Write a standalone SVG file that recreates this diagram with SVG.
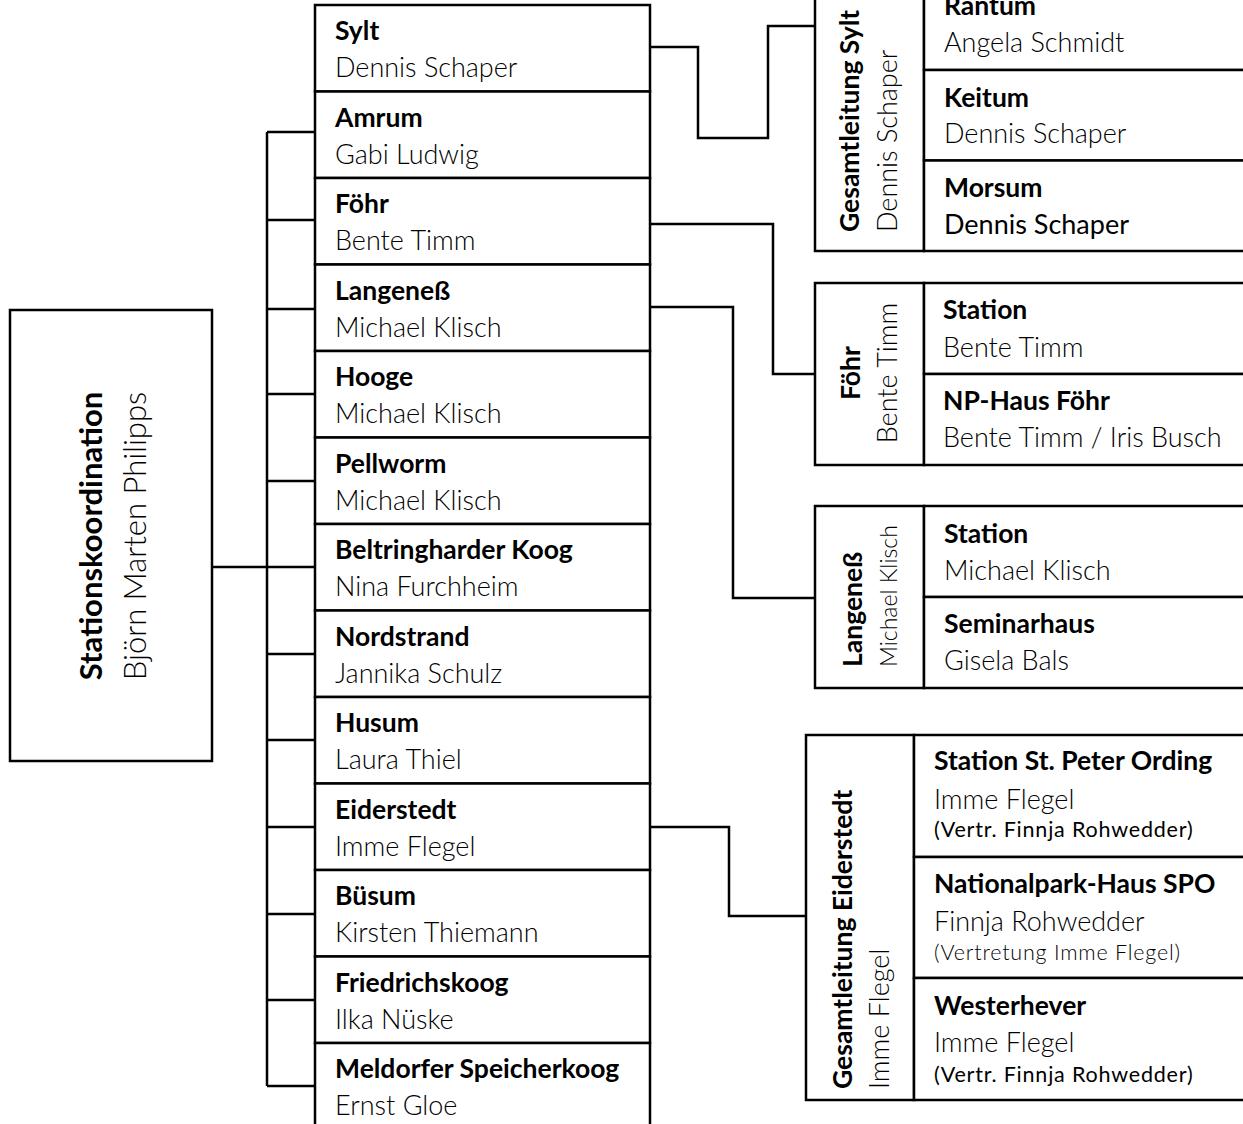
<svg xmlns="http://www.w3.org/2000/svg" width="1243" height="1124" viewBox="0 0 1243 1124">
<style>
.box{fill:#fff;stroke:#000;stroke-width:2.5}
.ln{fill:none;stroke:#000;stroke-width:2.5}
.t{font-family:Lato,"Open Sans",sans-serif;font-size:26.5px;font-weight:700;fill:#000}
.n{font-family:Lato,"Open Sans",sans-serif;font-size:27px;font-weight:300;fill:#000}
.nr{font-family:Lato,"Open Sans",sans-serif;font-size:27px;font-weight:400;fill:#000}
.s{font-family:Lato,"Open Sans",sans-serif;font-size:21.5px;font-weight:400;letter-spacing:0.8px;fill:#000}
.sl{font-family:Lato,"Open Sans",sans-serif;font-size:21.5px;font-weight:300;letter-spacing:0.8px;fill:#000}
.rt{font-family:Lato,"Open Sans",sans-serif;font-size:31px;font-weight:700;fill:#000}
.rn{font-family:Lato,"Open Sans",sans-serif;font-size:31px;font-weight:300;fill:#000}
</style>
<rect width="1243" height="1124" fill="#fff"/>
<g id="connectors">
<path class="ln" d="M212,567 H267"/>
<path class="ln" d="M267,132 V1086"/>
<path class="ln" d="M267,132 H315 M267,220 H315 M267,309 H315 M267,394 H315 M267,481 H315 M267,567 H315 M267,654 H315 M267,740 H315 M267,827 H315 M267,914 H315 M267,1000 H315 M267,1086 H315"/>
<path class="ln" d="M650,47 H698 V138 H768 V26 H815"/>
<path class="ln" d="M650,224 H773 V374 H815"/>
<path class="ln" d="M650,307 H733 V598 H815"/>
<path class="ln" d="M650,827 H729 V916 H806"/>
</g>
<g id="root">
<rect class="box" x="10" y="310" width="202" height="451"/>
<text class="rt" text-anchor="middle" transform="translate(102,536) rotate(-90)">Stationskoordination</text>
<text class="rn" text-anchor="middle" transform="translate(146,536) rotate(-90)">Björn Marten Philipps</text>
</g>
<g id="sylt"><rect class="box" x="315" y="5" width="335" height="86.5"/><text class="t" x="335" y="40">Sylt</text><text class="n" x="335" y="77">Dennis Schaper</text></g>
<g id="amrum"><rect class="box" x="315" y="91.5" width="335" height="86.5"/><text class="t" x="335" y="126.5">Amrum</text><text class="n" x="335" y="163.5">Gabi Ludwig</text></g>
<g id="foehr"><rect class="box" x="315" y="178" width="335" height="86.5"/><text class="t" x="335" y="213">Föhr</text><text class="n" x="335" y="250">Bente Timm</text></g>
<g id="langeness"><rect class="box" x="315" y="264.5" width="335" height="86.5"/><text class="t" x="335" y="299.5">Langeneß</text><text class="n" x="335" y="336.5">Michael Klisch</text></g>
<g id="hooge"><rect class="box" x="315" y="351" width="335" height="86.5"/><text class="t" x="335" y="386">Hooge</text><text class="n" x="335" y="423">Michael Klisch</text></g>
<g id="pellworm"><rect class="box" x="315" y="437.5" width="335" height="86.5"/><text class="t" x="335" y="472.5">Pellworm</text><text class="n" x="335" y="509.5">Michael Klisch</text></g>
<g id="beltringharder"><rect class="box" x="315" y="524" width="335" height="86.5"/><text class="t" x="335" y="559">Beltringharder Koog</text><text class="n" x="335" y="596">Nina Furchheim</text></g>
<g id="nordstrand"><rect class="box" x="315" y="610.5" width="335" height="86.5"/><text class="t" x="335" y="645.5">Nordstrand</text><text class="n" x="335" y="682.5">Jannika Schulz</text></g>
<g id="husum"><rect class="box" x="315" y="697" width="335" height="86.5"/><text class="t" x="335" y="732">Husum</text><text class="n" x="335" y="769">Laura Thiel</text></g>
<g id="eiderstedt"><rect class="box" x="315" y="783.5" width="335" height="86.5"/><text class="t" x="335" y="818.5">Eiderstedt</text><text class="n" x="335" y="855.5">Imme Flegel</text></g>
<g id="buesum"><rect class="box" x="315" y="870" width="335" height="86.5"/><text class="t" x="335" y="905">Büsum</text><text class="n" x="335" y="942">Kirsten Thiemann</text></g>
<g id="friedrichskoog"><rect class="box" x="315" y="956.5" width="335" height="86.5"/><text class="t" x="335" y="991.5">Friedrichskoog</text><text class="n" x="335" y="1028.5">Ilka Nüske</text></g>
<g id="meldorf"><rect class="box" x="315" y="1043" width="335" height="90"/><text class="t" x="335" y="1078">Meldorfer Speicherkoog</text><text class="n" x="335" y="1115">Ernst Gloe</text></g>

<g id="sylt-group">
<rect class="box" x="815" y="-20.5" width="109" height="271.5"/>
<text class="t" transform="translate(859,232) rotate(-90)">Gesamtleitung Sylt</text>
<text class="n" transform="translate(897,232) rotate(-90)">Dennis Schaper</text>
</g>
<g id="rantum"><rect class="box" x="924" y="-20.5" width="330" height="90.5"/><text class="t" x="944" y="15">Rantum</text><text class="n" x="944" y="52">Angela Schmidt</text></g>
<g id="keitum"><rect class="box" x="924" y="70" width="330" height="90.5"/><text class="t" x="944" y="107">Keitum</text><text class="n" x="944" y="143">Dennis Schaper</text></g>
<g id="morsum"><rect class="box" x="924" y="160.5" width="330" height="90.5"/><text class="t" x="944" y="197">Morsum</text><text class="nr" x="944" y="234">Dennis Schaper</text></g>

<g id="foehr-group">
<rect class="box" x="815" y="283" width="109" height="182"/>
<text class="t" text-anchor="middle" transform="translate(860,373) rotate(-90)">Föhr</text>
<text class="n" text-anchor="middle" transform="translate(897,373) rotate(-90)">Bente Timm</text>
</g>
<g id="foehr-station"><rect class="box" x="924" y="283" width="330" height="91"/><text class="t" x="943" y="319">Station</text><text class="n" x="943" y="357">Bente Timm</text></g>
<g id="foehr-nphaus"><rect class="box" x="924" y="374" width="330" height="91"/><text class="t" x="943" y="410">NP-Haus Föhr</text><text class="n" x="943" y="447">Bente Timm / Iris Busch</text></g>

<g id="langeness-group">
<rect class="box" x="815" y="506" width="109" height="182"/>
<text class="t" transform="translate(862,667) rotate(-90)">Langeneß</text>
<text class="n" style="font-size:23px" transform="translate(897,667) rotate(-90)">Michael Klisch</text>
</g>
<g id="langeness-station"><rect class="box" x="924" y="506" width="330" height="91"/><text class="t" x="944" y="543">Station</text><text class="n" x="944" y="580">Michael Klisch</text></g>
<g id="langeness-seminar"><rect class="box" x="924" y="597" width="330" height="91"/><text class="t" x="944" y="633">Seminarhaus</text><text class="n" x="944" y="670">Gisela Bals</text></g>

<g id="eiderstedt-group">
<rect class="box" x="806" y="735" width="108" height="365"/>
<text class="t" transform="translate(852,1089) rotate(-90)">Gesamtleitung Eiderstedt</text>
<text class="n" transform="translate(889,1089) rotate(-90)">Imme Flegel</text>
</g>
<g id="spo-station"><rect class="box" x="914" y="735" width="340" height="122"/><text class="t" x="934" y="770">Station St. Peter Ording</text><text class="n" x="934" y="809">Imme Flegel</text><text class="s" x="934" y="837">(Vertr. Finnja Rohwedder)</text></g>
<g id="spo-nphaus"><rect class="box" x="914" y="857" width="340" height="121"/><text class="t" x="934" y="893">Nationalpark-Haus SPO</text><text class="n" x="934" y="931">Finnja Rohwedder</text><text class="sl" x="934" y="960">(Vertretung Imme Flegel)</text></g>
<g id="westerhever"><rect class="box" x="914" y="978" width="340" height="122"/><text class="t" x="934" y="1015">Westerhever</text><text class="n" x="934" y="1052">Imme Flegel</text><text class="s" x="934" y="1082">(Vertr. Finnja Rohwedder)</text></g>
</svg>
